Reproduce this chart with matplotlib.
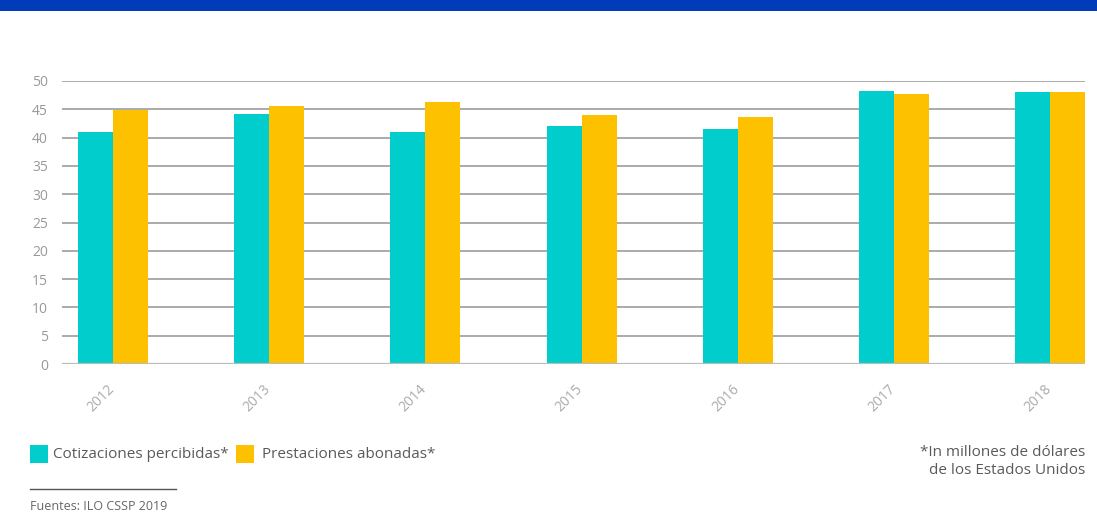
import numpy as np
import matplotlib.pyplot as plt
import matplotlib.transforms as mtrans
from matplotlib.patches import Rectangle
from matplotlib.lines import Line2D

plt.rcParams['font.family'] = ['Open Sans', 'DejaVu Sans']

years = ['2012', '2013', '2014', '2015', '2016', '2017', '2018']
cotizaciones = [41.0, 44.2, 41.0, 42.0, 41.5, 48.2, 48.1]
prestaciones = [44.9, 45.6, 46.3, 44.0, 43.6, 47.7, 48.1]

teal = '#00CDCC'
gold = '#FDC100'

fig = plt.figure(figsize=(10.97, 5.13), dpi=100)

# blue band at the top
fig.patches.append(Rectangle((0, 1 - 11 / 513), 1, 11 / 513, transform=fig.transFigure,
                             facecolor='#003BB8', edgecolor='none'))

ax = fig.add_axes([62 / 1097, 1 - 364 / 513, (1085 - 62) / 1097, (364 - 81) / 513])

x = np.arange(len(years))
w = 0.224
ax.bar(x - w / 2, cotizaciones, w, color=teal, zorder=3)
ax.bar(x + w / 2, prestaciones, w, color=gold, zorder=3)

ax.set_ylim(0, 50)
ax.set_xlim(-0.3265, 6.223)
ax.set_yticks(range(0, 51, 5))
ax.yaxis.grid(True, color='#aaaaaa', linewidth=1.4, zorder=0)
ax.set_axisbelow(True)
for s in ax.spines.values():
    s.set_visible(False)
ax.tick_params(axis='y', length=0, pad=10, labelsize=10, labelcolor='#999999')
ax.set_xticks(x)
ax.set_xticklabels(years, rotation=45, ha='right', rotation_mode='anchor',
                   fontsize=10, color='#aaaaaa')
ax.tick_params(axis='x', length=0, pad=13)
shift = mtrans.ScaledTranslation(-6 / 100, 0, fig.dpi_scale_trans)
for lab in ax.get_xticklabels():
    lab.set_transform(lab.get_transform() + shift)
ax.axhline(0, color='#bbbbbb', linewidth=1.6, zorder=4)

# legend
fig.patches.append(Rectangle((30 / 1097, 1 - 463 / 513), 18 / 1097, 18 / 513,
                             transform=fig.transFigure, facecolor=teal, edgecolor='none'))
fig.text(53 / 1097, 1 - 454 / 513, 'Cotizaciones percibidas*', fontsize=11,
         color='#5a5a5a', va='center')
fig.patches.append(Rectangle((236 / 1097, 1 - 463 / 513), 18 / 1097, 18 / 513,
                             transform=fig.transFigure, facecolor=gold, edgecolor='none'))
fig.text(262 / 1097, 1 - 455 / 513, 'Prestaciones abonadas*', fontsize=11,
         color='#5a5a5a', va='center')

fig.text(1085 / 1097, 1 - 452 / 513, '*In millones de dólares', fontsize=11,
         color='#5a5a5a', ha='right', va='center')
fig.text(1085 / 1097, 1 - 471 / 513, 'de los Estados Unidos', fontsize=11,
         color='#5a5a5a', ha='right', va='center')

fig.lines.append(Line2D([30 / 1097, 176 / 1097], [1 - 489 / 513, 1 - 489 / 513],
                        transform=fig.transFigure, color='#555555', linewidth=1))
fig.text(30 / 1097, 1 - 507 / 513, 'Fuentes: ILO CSSP 2019', fontsize=9,
         color='#666666', va='center')

fig.savefig('out.png', dpi=100)
